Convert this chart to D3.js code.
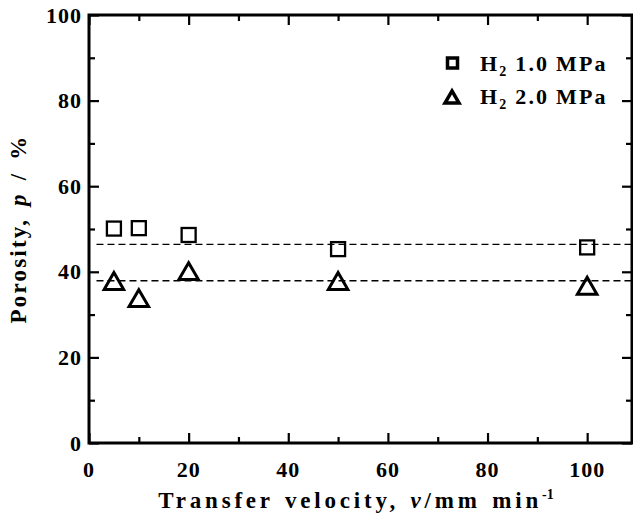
<!DOCTYPE html>
<html>
<head>
<meta charset="utf-8">
<script src="https://cdn.jsdelivr.net/npm/d3@7"></script>
<style>
  html, body { margin: 0; padding: 0; background: #fff; }
  svg { display: block; }
  text { font-family: "Liberation Serif", "Times New Roman", serif; font-weight: bold; fill: #000; }
</style>
</head>
<body>
<svg id="chart" width="633" height="521"></svg>
<script>
// Transfer velocity (mm/min) for each sample
const velocity = [5, 10, 20, 50, 100];
// Porosity (%) measured at two hydrogen pressures
const porosity10 = [50.1, 50.2, 48.6, 45.3, 45.7];
const porosity20 = [37.2, 33.2, 39.5, 37.2, 36.1];
// Mean porosity levels drawn as dashed reference lines
const meanLevels = [46.4, 37.9];
const seriesNames = ["1.0 MPa", "2.0 MPa"];
const xTicks = [0, 20, 40, 60, 80, 100];
const yTicks = [0, 20, 40, 60, 80, 100];

const svg = d3.select("#chart");
const plotL = 89, plotR = 632, plotT = 15, plotB = 443;

const x = d3.scaleLinear().domain([0, 109]).range([plotL, plotR]);
const y = d3.scaleLinear().domain([0, 100]).range([plotB, plotT]);

const minorX = d3.range(10, 109, 20);
const minorY = d3.range(10, 100, 20);

// Mean-level dashed lines
svg.append("g").selectAll("line").data(meanLevels).join("line")
  .attr("x1", x(1.5)).attr("x2", plotR)
  .attr("y1", d => y(d)).attr("y2", d => y(d))
  .attr("stroke", "#000").attr("stroke-width", 1.4)
  .attr("stroke-dasharray", "7,4");

// Frame with inward ticks on all four sides
function tickAxis(axisFn, scale, values, size, transform) {
  const g = svg.append("g").attr("transform", transform)
    .call(axisFn(scale).tickValues(values).tickSize(size).tickFormat(""));
  g.select(".domain").remove();
  g.selectAll(".tick line").attr("stroke", "#000").attr("stroke-width", 2.2);
  return g;
}
// bottom
tickAxis(d3.axisTop, x, xTicks, 10, `translate(0,${plotB})`);
tickAxis(d3.axisTop, x, minorX, 6, `translate(0,${plotB})`);
// top
tickAxis(d3.axisBottom, x, xTicks, 10, `translate(0,${plotT})`);
tickAxis(d3.axisBottom, x, minorX, 6, `translate(0,${plotT})`);
// left
tickAxis(d3.axisRight, y, yTicks, 10, `translate(${plotL},0)`);
tickAxis(d3.axisRight, y, minorY, 6, `translate(${plotL},0)`);
// right
tickAxis(d3.axisLeft, y, yTicks, 10, `translate(${plotR},0)`);
tickAxis(d3.axisLeft, y, minorY, 6, `translate(${plotR},0)`);

svg.append("rect")
  .attr("x", plotL).attr("y", plotT)
  .attr("width", plotR - plotL).attr("height", plotB - plotT)
  .attr("fill", "none").attr("stroke", "#000").attr("stroke-width", 3);

// Tick labels
svg.append("g").selectAll("text").data(xTicks).join("text")
  .attr("x", d => x(d)).attr("y", 477)
  .attr("text-anchor", "middle").attr("font-size", 22)
  .attr("letter-spacing", 1)
  .text(d => d);
svg.append("g").selectAll("text").data(yTicks).join("text")
  .attr("x", 82).attr("y", d => y(d) + 7.5)
  .attr("text-anchor", "end").attr("font-size", 22)
  .attr("letter-spacing", 1)
  .text(d => d);

// Axis titles
const xt = svg.append("text")
  .attr("x", 356).attr("y", 508)
  .attr("text-anchor", "middle").attr("font-size", 23)
  .attr("letter-spacing", 3.8).attr("word-spacing", 2);
xt.append("tspan").text("Transfer velocity, ");
xt.append("tspan").attr("font-style", "italic").text("v");
xt.append("tspan").text("/mm min");
xt.append("tspan").attr("dy", -9).attr("font-size", 14).attr("letter-spacing", 0).text("-1");

const yt = svg.append("text")
  .attr("transform", `translate(26,${(plotT + plotB) / 2}) rotate(-90)`)
  .attr("text-anchor", "middle").attr("font-size", 23)
  .attr("letter-spacing", 2.2).attr("word-spacing", 4);
yt.append("tspan").text("Porosity, ");
yt.append("tspan").attr("font-style", "italic").text("p");
yt.append("tspan").text(" / %");

// Markers
const sq = 14;
svg.append("g").selectAll("rect").data(velocity.map((v, i) => [v, porosity10[i]])).join("rect")
  .attr("x", d => x(d[0]) - sq / 2).attr("y", d => y(d[1]) - sq / 2)
  .attr("width", sq).attr("height", sq)
  .attr("fill", "none").attr("stroke", "#000").attr("stroke-width", 2.3);

const tri = d3.symbol().type(d3.symbolTriangle).size(165);
svg.append("g").selectAll("path").data(velocity.map((v, i) => [v, porosity20[i]])).join("path")
  .attr("d", tri)
  .attr("transform", d => `translate(${x(d[0])},${y(d[1])})`)
  .attr("fill", "none").attr("stroke", "#000").attr("stroke-width", 3);

// Legend
const legend = svg.append("g");
legend.append("rect").attr("x", 447.5).attr("y", 58).attr("width", 10).attr("height", 10)
  .attr("fill", "none").attr("stroke", "#000").attr("stroke-width", 3.5);
legend.append("path").attr("d", d3.symbol().type(d3.symbolTriangle).size(85))
  .attr("transform", "translate(452,99)")
  .attr("fill", "none").attr("stroke", "#000").attr("stroke-width", 3.5);
seriesNames.forEach((name, i) => {
  const t = legend.append("text").attr("x", 480).attr("y", 71 + i * 33)
    .attr("font-size", 22).attr("letter-spacing", 2.2).attr("word-spacing", -1);
  t.append("tspan").text("H");
  t.append("tspan").attr("dy", 5).attr("font-size", 14).text("2");
  t.append("tspan").attr("dy", -5).text(" " + name);
});
</script>
</body>
</html>
